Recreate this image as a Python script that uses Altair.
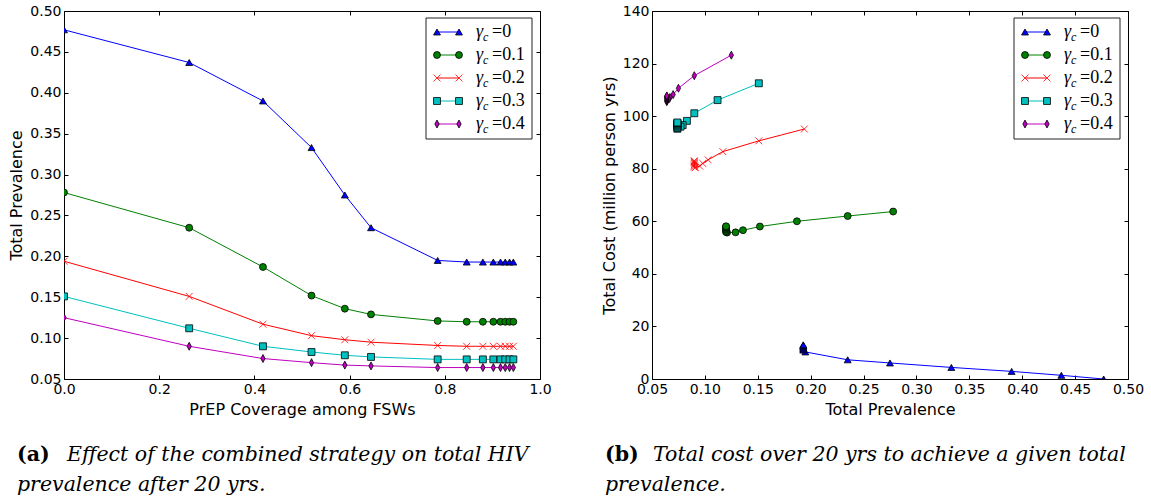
import altair as alt
import pandas as pd

# ---------------- data ----------------
series = ["0", "0.1", "0.2", "0.3", "0.4"]
series_labels = ["=0", "=0.1", "=0.2", "=0.3", "=0.4"]
colors = ["#0000ff", "#008000", "#ff0000", "#00bfbf", "#bf00bf"]

coverage = [0.0, 0.263, 0.418, 0.520, 0.590, 0.645, 0.785, 0.846, 0.880, 0.902, 0.917, 0.927, 0.936, 0.944]

prev_g0 = [0.477, 0.437, 0.390, 0.333, 0.275, 0.235, 0.195, 0.193, 0.193, 0.193, 0.193, 0.193, 0.193, 0.193]
prev_g1 = [0.278, 0.235, 0.187, 0.152, 0.136, 0.129, 0.121, 0.120, 0.120, 0.120, 0.120, 0.120, 0.120, 0.120]
prev_g2 = [0.194, 0.151, 0.117, 0.103, 0.098, 0.095, 0.091, 0.090, 0.090, 0.090, 0.090, 0.090, 0.090, 0.090]
prev_g3 = [0.151, 0.112, 0.090, 0.083, 0.079, 0.077, 0.074, 0.074, 0.074, 0.074, 0.074, 0.074, 0.074, 0.074]
prev_g4 = [0.125, 0.090, 0.075, 0.070, 0.067, 0.066, 0.064, 0.064, 0.064, 0.064, 0.064, 0.064, 0.064, 0.064]

cost_g0 = [0.0, 1.4, 2.9, 4.4, 6.1, 7.3, 10.3, 11.0, 11.4, 11.8, 12.2, 12.5, 12.8, 13.0]
cost_g1 = [63.7, 62.0, 60.0, 58.0, 56.6, 55.8, 55.7, 55.9, 56.3, 56.8, 57.2, 57.6, 57.9, 58.1]
cost_g2 = [95.1, 90.6, 86.5, 83.4, 82.0, 81.0, 80.4, 80.6, 81.0, 81.5, 82.0, 82.4, 82.8, 83.0]
cost_g3 = [112.5, 106.1, 101.1, 98.2, 96.6, 96.0, 95.2, 95.5, 96.0, 96.4, 96.8, 97.1, 97.4, 97.6]
cost_g4 = [123.2, 115.4, 110.6, 108.2, 107.1, 106.5, 105.5, 105.9, 106.3, 106.7, 107.0, 107.3, 107.5, 107.7]

prevs = [prev_g0, prev_g1, prev_g2, prev_g3, prev_g4]
costs = [cost_g0, cost_g1, cost_g2, cost_g3, cost_g4]

rows = []
for s, pv, cs in zip(series, prevs, costs):
    for i, (cv, p, c) in enumerate(zip(coverage, pv, cs)):
        rows.append({"series": s, "idx": i, "coverage": cv, "prevalence": p, "cost": c})
df = pd.DataFrame(rows)
legend_df = pd.DataFrame({"series": series, "label": series_labels})
one = pd.DataFrame({"a": [0]})

# ---------------- styling ----------------
W, H = 476, 368
shape_range = ["triangle-up", "circle", "M-1,-1L1,1M-1,1L1,-1", "square", "M0,-1.15L0.62,0L0,1.15L-0.62,0Z"]
stroke_range = ["black", "black", "#ff0000", "black", "black"]
color_scale = alt.Scale(domain=series, range=colors)
shape_scale = alt.Scale(domain=series, range=shape_range)
stroke_scale = alt.Scale(domain=series, range=stroke_range)

ax = dict(domain=False, grid=False, tickColor="black", tickSize=4, tickWidth=1, offset=-4,
          labelFont="DejaVu Sans", labelFontSize=14, labelColor="black", labelFlush=False,
          labelOverlap=False, labelPadding=3, titleFont="DejaVu Sans", titleFontSize=16,
          titleFontWeight="normal", titleColor="black", titlePadding=5)

CAP = 20.5


def panel(xf, yf, xdom, ydom, xvals, yvals, xfmt, yfmt, xtitle, ytitle, cap_tag, cap1, cap2, cap1_x):
    xs = alt.Scale(domain=xdom, nice=False, zero=False)
    ys = alt.Scale(domain=ydom, nice=False, zero=False)
    base = alt.Chart(df)
    lines = base.mark_line(strokeWidth=1, clip=True).encode(
        x=alt.X(f"{xf}:Q", scale=xs, axis=alt.Axis(orient="bottom", values=xvals, format=xfmt, title=xtitle, **ax)),
        y=alt.Y(f"{yf}:Q", scale=ys, axis=alt.Axis(orient="left", values=yvals, format=yfmt, title=ytitle, **ax)),
        color=alt.Color("series:N", scale=color_scale, legend=None),
        order=alt.Order("idx:Q"),
    )
    frame_axes = base.mark_point(opacity=0).encode(
        x=alt.X(f"{xf}:Q", scale=xs, axis=alt.Axis(orient="top", values=xvals, labels=False, title=None, **ax)),
        y=alt.Y(f"{yf}:Q", scale=ys, axis=alt.Axis(orient="right", values=yvals, labels=False, title=None, **ax)),
    )
    pts = base.mark_point(filled=True, size=48, strokeWidth=0.8, opacity=1, clip=True).encode(
        x=alt.X(f"{xf}:Q", scale=xs, axis=None),
        y=alt.Y(f"{yf}:Q", scale=ys, axis=None),
        shape=alt.Shape("series:N", scale=shape_scale, legend=None),
        fill=alt.Fill("series:N", scale=color_scale, legend=None),
        stroke=alt.Stroke("series:N", scale=stroke_scale, legend=None),
    )
    # legend box
    box = alt.Chart(one).mark_rect(fill="white", stroke="#222222", strokeWidth=1).encode(
        x=alt.value(W - 114), x2=alt.value(W - 8), y=alt.value(7), y2=alt.value(128))
    ly = alt.Y("series:N", scale=alt.Scale(type="point", domain=series, range=[21, 113], padding=0), axis=None)
    lb = alt.Chart(legend_df)
    lline = lb.mark_rule(strokeWidth=1).encode(
        x=alt.value(W - 103), x2=alt.value(W - 81), y=ly,
        color=alt.Color("series:N", scale=color_scale, legend=None))
    lpts = []
    for xv in (W - 103, W - 81):
        lpts.append(lb.mark_point(filled=True, size=48, strokeWidth=0.8, opacity=1).encode(
            x=alt.value(xv), y=ly,
            shape=alt.Shape("series:N", scale=shape_scale, legend=None),
            fill=alt.Fill("series:N", scale=color_scale, legend=None),
            stroke=alt.Stroke("series:N", scale=stroke_scale, legend=None)))
    lgam = lb.mark_text(font="Liberation Serif", fontStyle="italic", fontSize=18, align="left",
                        baseline="middle", color="black").encode(x=alt.value(W - 64), y=ly, text=alt.value("γ"))
    lsub = lb.mark_text(font="Liberation Serif", fontStyle="italic", fontSize=12, align="left",
                        baseline="middle", color="black", dy=5).encode(x=alt.value(W - 57), y=ly, text=alt.value("c"))
    llab = lb.mark_text(font="Liberation Serif", fontSize=18, align="left", baseline="middle",
                        color="black").encode(x=alt.value(W - 48), y=ly, text="label:N")
    # caption
    c_tag = alt.Chart(one).mark_text(font="DejaVu Serif", fontWeight="bold", fontSize=CAP, align="left",
                                     baseline="middle", color="black").encode(
        x=alt.value(-47), y=alt.value(444), text=alt.value(cap_tag))
    c1 = alt.Chart(one).mark_text(font="DejaVu Serif", fontStyle="italic", fontSize=CAP, align="left",
                                  baseline="middle", color="black").encode(
        x=alt.value(cap1_x), y=alt.value(444), text=alt.value(cap1))
    c2 = alt.Chart(one).mark_text(font="DejaVu Serif", fontStyle="italic", fontSize=CAP, align="left",
                                  baseline="middle", color="black").encode(
        x=alt.value(-47), y=alt.value(474), text=alt.value(cap2))
    return alt.layer(lines, pts, frame_axes, box, lline, *lpts, lgam, lsub, llab, c_tag, c1, c2).resolve_scale(
        x="independent", y="independent").resolve_axis(x="independent", y="independent").properties(width=W, height=H)


left = panel("coverage", "prevalence", [0, 1], [0.05, 0.5],
             [0, 0.2, 0.4, 0.6, 0.8, 1.0], [0.05, 0.1, 0.15, 0.2, 0.25, 0.3, 0.35, 0.4, 0.45, 0.5],
             ".1f", ".2f", "PrEP Coverage among FSWs", "Total Prevalence",
             "(a)", "Effect of the combined strategy on total HIV", "prevalence after 20 yrs.", 3)
right = panel("prevalence", "cost", [0.05, 0.5], [0, 140],
              [0.05, 0.1, 0.15, 0.2, 0.25, 0.3, 0.35, 0.4, 0.45, 0.5], [0, 20, 40, 60, 80, 100, 120, 140],
              ".2f", "d", "Total Prevalence", "Total Cost (million person yrs)",
              "(b)", "Total cost over 20 yrs to achieve a given total", "prevalence.", 1)

chart = alt.hconcat(left, right, spacing=48).properties(
    padding={"left": 8, "top": 3, "right": 5, "bottom": 5}, background="white"
).configure_view(stroke="black", strokeWidth=1)

chart.save("out.html", embed_options={"renderer": "svg", "actions": False})
